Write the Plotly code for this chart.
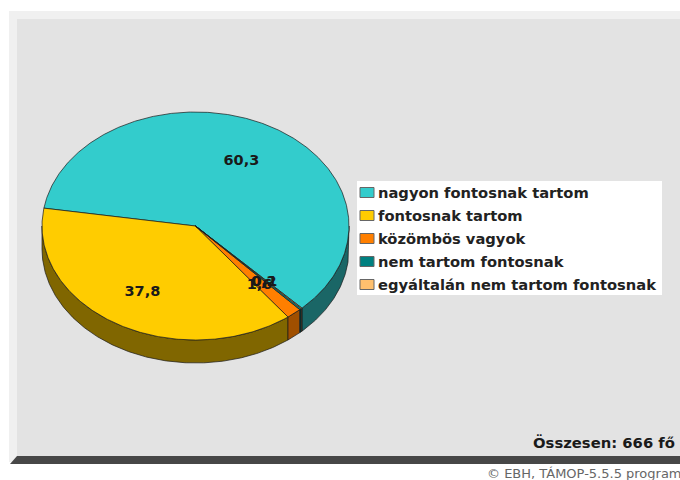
import math
import plotly.graph_objects as go

categories = ["nagyon fontosnak tartom", "fontosnak tartom", "közömbös vagyok",
              "nem tartom fontosnak", "egyáltalán nem tartom fontosnak"]
values = [60.3, 37.8, 1.6, 0.2, 0.1]
value_labels = ["60,3", "37,8", "1,6", "0,2", "0,1"]
top_colors = ["#33CCCC", "#FFCC00", "#FF7F00", "#008080", "#FFC06E"]
side_colors = ["#1A6666", "#806600", "#A04F00", "#004040", "#806037"]
total_label = "Összesen: 666 fő"
footer_label = "© EBH, TÁMOP-5.5.5 program"

CX, CY, RX, RY, DEPTH = 195.5, 226, 153.5, 114, 23
START = -46.1
FONT = "DejaVu Sans"


def pt(deg, dy=0.0, r=1.0):
    t = math.radians(deg)
    return CX + r * RX * math.cos(t), CY - r * RY * math.sin(t) + dy


def arc(a, b, dy=0.0):
    n = max(2, int(abs(b - a) * 2) + 1)
    pts = [pt(a + (b - a) * i / (n - 1), dy) for i in range(n)]
    return [p[0] for p in pts], [p[1] for p in pts]


spans = []
cur = START
total = sum(values)
for v in values:
    nxt = cur + v / total * 360
    spans.append((cur, nxt))
    cur = nxt

fig = go.Figure()

# side wall: only the front half of the ellipse
for (a, b), col in zip(spans, side_colors):
    for lo, hi in [(-180, 0), (180, 360)]:
        s, e = max(a, lo), min(b, hi)
        if e > s:
            x1, y1 = arc(s, e)
            x2, y2 = arc(e, s, DEPTH)
            fig.add_trace(go.Scatter(x=x1 + x2 + [x1[0]], y=y1 + y2 + [y1[0]], mode="lines",
                                     fill="toself", fillcolor=col,
                                     line=dict(color="#1a1a1a", width=0.7),
                                     hoverinfo="skip", showlegend=False))

# top face
for (a, b), col, name in zip(spans, top_colors, categories):
    xs, ys = arc(a, b)
    fig.add_trace(go.Scatter(x=[CX] + xs + [CX], y=[CY] + ys + [CY], mode="lines",
                             fill="toself", fillcolor=col, name=name,
                             line=dict(color="#1a1a1a", width=0.7),
                             hoverinfo="name", showlegend=False))

# value labels
lab = [pt((a + b) / 2, dy=2, r=0.66) for a, b in spans]
fig.add_trace(go.Scatter(x=[p[0] - 1 for p in lab], y=[p[1] for p in lab], mode="text",
                         text=value_labels, textposition="middle center",
                         textfont=dict(family=FONT, size=14.5, color="#1a1a1a", weight="bold"),
                         hoverinfo="skip", showlegend=False))

shapes = [
    dict(type="rect", x0=9, y0=11, x1=680, y1=462, fillcolor="#F0F0F0", line_width=0, layer="below"),
    dict(type="rect", x0=17, y0=19, x1=680, y1=456, fillcolor="#E3E3E3", line_width=0, layer="below"),
    dict(type="path", path="M 17 456 L 680 456 L 680 464 L 10 464 Z", fillcolor="#474747", line_width=0, layer="below"),
    dict(type="rect", x0=357, y0=181, x1=662, y1=295, fillcolor="#FFFFFF", line_width=0, layer="below"),
]
annotations = []
for i, (name, col) in enumerate(zip(categories, top_colors)):
    yc = 192.5 + i * 23
    shapes.append(dict(type="rect", x0=360, y0=yc - 5, x1=374, y1=yc + 5, fillcolor=col,
                       line=dict(color="#666666", width=1)))
    annotations.append(dict(x=376.5, y=yc, text=name, xanchor="left", yanchor="middle", showarrow=False,
                            xref="x", yref="y", borderpad=0,
                            font=dict(family=FONT, size=14.7, color="#222222", weight="bold")))
annotations.append(dict(x=531.5, y=442, text=total_label, xanchor="left", yanchor="middle", showarrow=False,
                        borderpad=0, font=dict(family=FONT, size=14.8, color="#1a1a1a", weight="bold")))
annotations.append(dict(x=486, y=473.5, text=footer_label, xanchor="left", yanchor="middle", showarrow=False,
                        borderpad=0, font=dict(family=FONT, size=13, color="#666666")))

fig.update_layout(
    width=680, height=480, margin=dict(l=0, r=0, t=0, b=0),
    paper_bgcolor="#FFFFFF", plot_bgcolor="rgba(0,0,0,0)",
    xaxis=dict(range=[0, 680], visible=False, fixedrange=True),
    yaxis=dict(range=[480, 0], visible=False, fixedrange=True),
    shapes=shapes, annotations=annotations, showlegend=False,
)
fig.write_html("out.html", config={"displayModeBar": False},
               post_script="document.body.style.margin='0';document.documentElement.style.overflow='hidden';")
